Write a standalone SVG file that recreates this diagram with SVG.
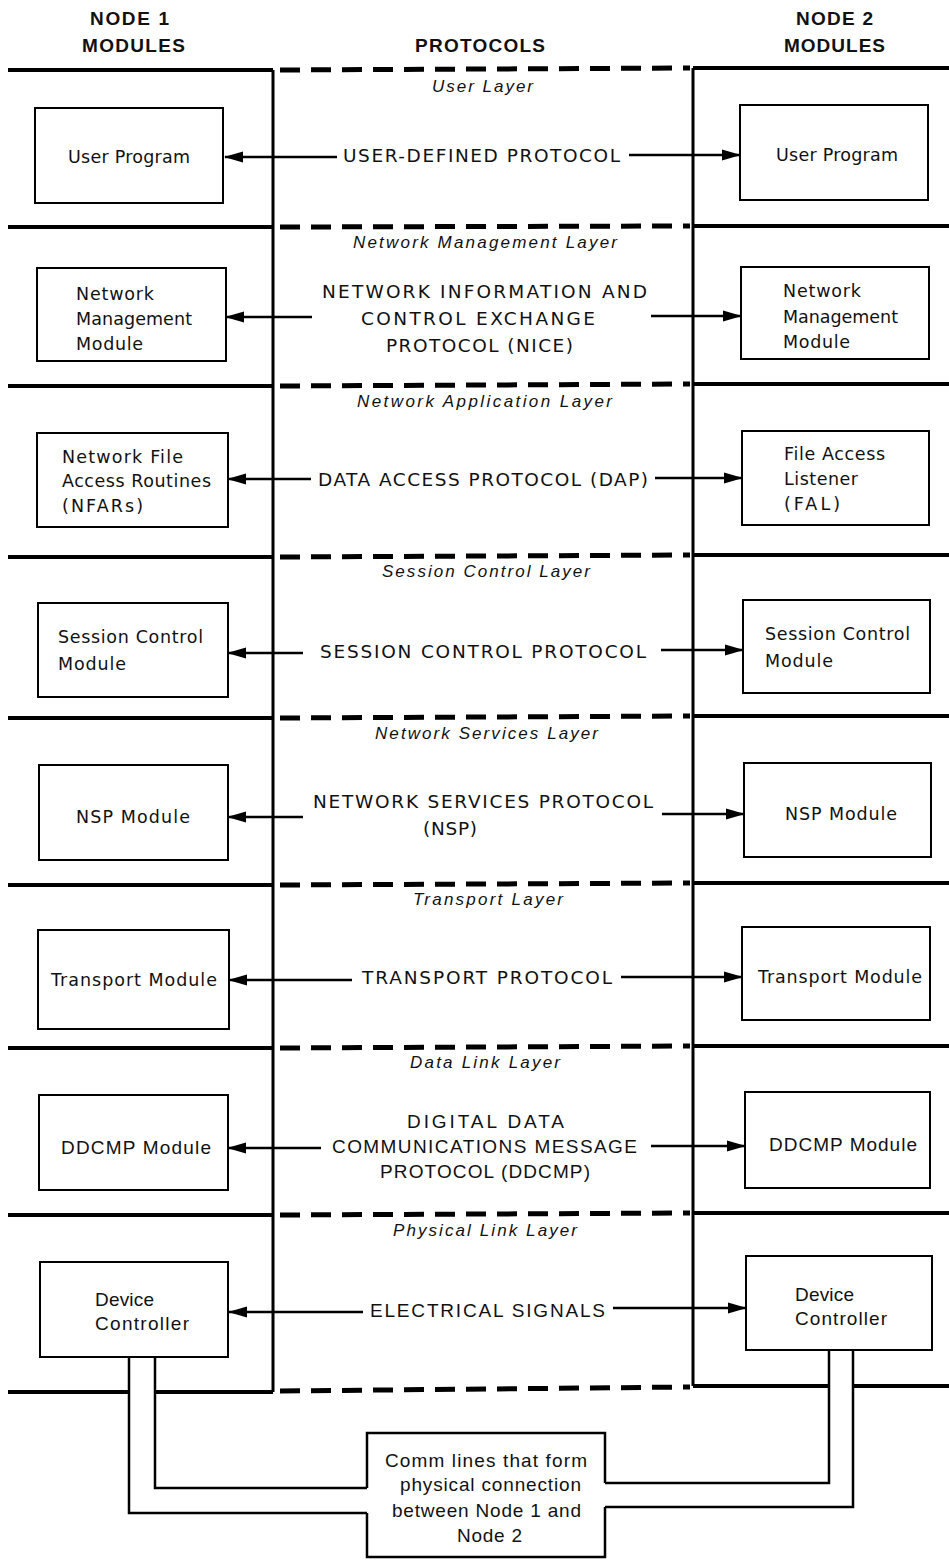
<svg xmlns="http://www.w3.org/2000/svg" width="949" height="1560" viewBox="0 0 949 1560">
<defs>
<marker id="ah" markerUnits="userSpaceOnUse" markerWidth="19" markerHeight="14" refX="18" refY="7" orient="auto"><path d="M0,1.5 L19,7 L0,12.5 z" fill="#000"/></marker>
<style>
.hdr{font-family:"Liberation Sans",Arial,sans-serif;font-size:19px;font-weight:bold;fill:#111}
.layer{font-family:"Liberation Sans",Arial,sans-serif;font-size:17px;font-style:italic;fill:#111}
.proto{font-family:"DejaVu Sans","Liberation Sans",sans-serif;font-size:18.5px;fill:#111}
.mod{font-family:"DejaVu Sans","Liberation Sans",sans-serif;font-size:17.5px;fill:#111}
.cond{font-family:"Liberation Sans",Arial,sans-serif;font-size:19px;fill:#111}
.box{fill:#fff;stroke:#000;stroke-width:2}
.thick{stroke:#000;stroke-width:4;fill:none}
.dash{stroke:#000;stroke-width:5;stroke-dasharray:20 11;fill:none}
.vert{stroke:#000;stroke-width:3;fill:none}
.arr{stroke:#000;stroke-width:2.4;fill:none;marker-end:url(#ah)}
.comm{stroke:#000;stroke-width:2.5;fill:none}
</style>
</defs>
<rect width="949" height="1560" fill="#fff"/>

<g id="headers">
<text class="hdr" x="90" y="25" textLength="79" lengthAdjust="spacing">NODE 1</text>
<text class="hdr" x="82" y="52" textLength="103" lengthAdjust="spacing">MODULES</text>
<text class="hdr" x="415" y="52" textLength="130" lengthAdjust="spacing">PROTOCOLS</text>
<text class="hdr" x="796" y="25" textLength="77" lengthAdjust="spacing">NODE 2</text>
<text class="hdr" x="784" y="52" textLength="101" lengthAdjust="spacing">MODULES</text>
</g>

<g id="frame">
<path class="vert" d="M273,70 V1392 M693,68 V1386"/>
<path class="thick" d="M8,70 H273 M693,68 H949"/>
<path class="dash" d="M280,70 L690,68"/>
<path class="thick" d="M8,227 H273 M693,226 H949"/>
<path class="dash" d="M280,227 L690,226"/>
<path class="thick" d="M8,386 H273 M693,384 H949"/>
<path class="dash" d="M280,386 L690,384"/>
<path class="thick" d="M8,557 H273 M693,555 H949"/>
<path class="dash" d="M280,557 L690,555"/>
<path class="thick" d="M8,718 H273 M693,716 H949"/>
<path class="dash" d="M280,718 L690,716"/>
<path class="thick" d="M8,885 H273 M693,883 H949"/>
<path class="dash" d="M280,885 L690,883"/>
<path class="thick" d="M8,1048 H273 M693,1046 H949"/>
<path class="dash" d="M280,1048 L690,1046"/>
<path class="thick" d="M8,1215 H273 M693,1213 H949"/>
<path class="dash" d="M280,1215 L690,1213"/>
<path class="thick" d="M8,1392 H129 M155,1392 H273 M693,1386 H829 M853,1386 H949"/>
<path class="dash" d="M280,1391 L690,1387"/>
</g>

<g id="layer-labels">
<text class="layer" x="432" y="92" textLength="101" lengthAdjust="spacing">User Layer</text>
<text class="layer" x="353" y="248" textLength="264" lengthAdjust="spacing">Network Management Layer</text>
<text class="layer" x="357" y="407" textLength="255" lengthAdjust="spacing">Network Application Layer</text>
<text class="layer" x="382" y="577" textLength="208" lengthAdjust="spacing">Session Control Layer</text>
<text class="layer" x="375" y="739" textLength="223" lengthAdjust="spacing">Network Services Layer</text>
<text class="layer" x="413" y="905" textLength="150" lengthAdjust="spacing">Transport Layer</text>
<text class="layer" x="410" y="1068" textLength="150" lengthAdjust="spacing">Data Link Layer</text>
<text class="layer" x="393" y="1236" textLength="184" lengthAdjust="spacing">Physical Link Layer</text>
</g>

<g id="connectors">
<path class="arr" d="M337,157 H225"/>
<path class="arr" d="M629,155 H740"/>
<path class="arr" d="M312,317 H226"/>
<path class="arr" d="M651,316 H741"/>
<path class="arr" d="M311,479 H228"/>
<path class="arr" d="M655,478 H742"/>
<path class="arr" d="M303,653 H228"/>
<path class="arr" d="M661,650 H743"/>
<path class="arr" d="M303,817 H228"/>
<path class="arr" d="M662,814 H744"/>
<path class="arr" d="M352,980 H229"/>
<path class="arr" d="M621,977 H742"/>
<path class="arr" d="M321,1148 H228"/>
<path class="arr" d="M651,1146 H745"/>
<path class="arr" d="M363,1312 H229"/>
<path class="arr" d="M613,1308 H746"/>
<path class="comm" d="M129,1357 V1513 H367 M155,1357 V1488 H367 M829,1350 V1483 H605 M853,1350 V1507 H605"/>
</g>

<g id="protocols">
<text class="proto" x="343" y="162" textLength="277" lengthAdjust="spacing">USER-DEFINED PROTOCOL</text>
<text class="proto" x="322" y="298" textLength="325" lengthAdjust="spacing">NETWORK INFORMATION AND</text>
<text class="proto" x="361" y="325" textLength="234" lengthAdjust="spacing">CONTROL EXCHANGE</text>
<text class="proto" x="386" y="352" textLength="187" lengthAdjust="spacing">PROTOCOL (NICE)</text>
<text class="proto" x="318" y="486" textLength="330" lengthAdjust="spacing">DATA ACCESS PROTOCOL (DAP)</text>
<text class="proto" x="320" y="658" textLength="326" lengthAdjust="spacing">SESSION CONTROL PROTOCOL</text>
<text class="proto" x="313" y="808" textLength="340" lengthAdjust="spacing">NETWORK SERVICES PROTOCOL</text>
<text class="proto" x="423" y="835" textLength="54" lengthAdjust="spacing">(NSP)</text>
<text class="proto" x="362" y="984" textLength="250" lengthAdjust="spacing">TRANSPORT PROTOCOL</text>
<text class="cond" x="407" y="1128" textLength="157" lengthAdjust="spacing">DIGITAL DATA</text>
<text class="cond" x="332" y="1153" textLength="305" lengthAdjust="spacing">COMMUNICATIONS MESSAGE</text>
<text class="cond" x="380" y="1178" textLength="210" lengthAdjust="spacing">PROTOCOL (DDCMP)</text>
<text class="cond" x="370" y="1317" textLength="235" lengthAdjust="spacing">ELECTRICAL SIGNALS</text>
</g>

<g id="n1-user-program">
<rect class="box" x="35" y="108" width="188" height="95"/>
<text class="mod" x="68" y="163" textLength="122" lengthAdjust="spacing">User Program</text>
</g>
<g id="n2-user-program">
<rect class="box" x="740" y="105" width="188" height="95"/>
<text class="mod" x="776" y="161" textLength="122" lengthAdjust="spacing">User Program</text>
</g>

<g id="n1-netmgmt">
<rect class="box" x="37" y="268" width="189" height="93"/>
<text class="mod" x="76" y="300" textLength="78" lengthAdjust="spacing">Network</text>
<text class="mod" x="76" y="325" textLength="116" lengthAdjust="spacing">Management</text>
<text class="mod" x="76" y="350" textLength="67" lengthAdjust="spacing">Module</text>
</g>
<g id="n2-netmgmt">
<rect class="box" x="741" y="267" width="188" height="92"/>
<text class="mod" x="783" y="297" textLength="78" lengthAdjust="spacing">Network</text>
<text class="mod" x="783" y="323" textLength="115" lengthAdjust="spacing">Management</text>
<text class="mod" x="783" y="348" textLength="67" lengthAdjust="spacing">Module</text>
</g>

<g id="n1-nfar">
<rect class="box" x="37" y="433" width="191" height="94"/>
<text class="mod" x="62" y="463" textLength="121" lengthAdjust="spacing">Network File</text>
<text class="mod" x="62" y="487" textLength="149" lengthAdjust="spacing">Access Routines</text>
<text class="mod" x="62" y="512" textLength="81" lengthAdjust="spacing">(NFARs)</text>
</g>
<g id="n2-fal">
<rect class="box" x="742" y="431" width="187" height="94"/>
<text class="mod" x="784" y="460" textLength="101" lengthAdjust="spacing">File Access</text>
<text class="mod" x="784" y="485" textLength="74" lengthAdjust="spacing">Listener</text>
<text class="mod" x="784" y="510" textLength="56" lengthAdjust="spacing">(FAL)</text>
</g>

<g id="n1-session">
<rect class="box" x="38" y="603" width="190" height="94"/>
<text class="mod" x="58" y="643" textLength="145" lengthAdjust="spacing">Session Control</text>
<text class="mod" x="58" y="670" textLength="68" lengthAdjust="spacing">Module</text>
</g>
<g id="n2-session">
<rect class="box" x="743" y="600" width="187" height="93"/>
<text class="mod" x="765" y="640" textLength="145" lengthAdjust="spacing">Session Control</text>
<text class="mod" x="765" y="667" textLength="68" lengthAdjust="spacing">Module</text>
</g>

<g id="n1-nsp">
<rect class="box" x="39" y="765" width="189" height="95"/>
<text class="mod" x="76" y="823" textLength="114" lengthAdjust="spacing">NSP Module</text>
</g>
<g id="n2-nsp">
<rect class="box" x="744" y="763" width="187" height="94"/>
<text class="mod" x="785" y="820" textLength="112" lengthAdjust="spacing">NSP Module</text>
</g>

<g id="n1-transport">
<rect class="box" x="38" y="930" width="191" height="99"/>
<text class="mod" x="51" y="986" textLength="166" lengthAdjust="spacing">Transport Module</text>
</g>
<g id="n2-transport">
<rect class="box" x="742" y="927" width="188" height="93"/>
<text class="mod" x="758" y="983" textLength="164" lengthAdjust="spacing">Transport Module</text>
</g>

<g id="n1-ddcmp">
<rect class="box" x="39" y="1095" width="189" height="95"/>
<text class="cond" x="61" y="1154" textLength="150" lengthAdjust="spacing">DDCMP Module</text>
</g>
<g id="n2-ddcmp">
<rect class="box" x="745" y="1092" width="185" height="96"/>
<text class="cond" x="769" y="1151" textLength="148" lengthAdjust="spacing">DDCMP Module</text>
</g>

<g id="n1-device">
<rect class="box" x="40" y="1262" width="188" height="95"/>
<text class="cond" x="95" y="1306" textLength="59" lengthAdjust="spacing">Device</text>
<text class="cond" x="95" y="1330" textLength="94" lengthAdjust="spacing">Controller</text>
</g>
<g id="n2-device">
<rect class="box" x="746" y="1256" width="186" height="94"/>
<text class="cond" x="795" y="1301" textLength="59" lengthAdjust="spacing">Device</text>
<text class="cond" x="795" y="1325" textLength="92" lengthAdjust="spacing">Controller</text>
</g>

<g id="comm-lines-box">
<path class="comm" d="M367,1488 V1433 H605 V1483 M605,1507 V1557 H367 V1513"/>
<text class="cond" x="385" y="1467" textLength="202" lengthAdjust="spacing">Comm lines that form</text>
<text class="cond" x="400" y="1491" textLength="181" lengthAdjust="spacing">physical connection</text>
<text class="cond" x="392" y="1517" textLength="189" lengthAdjust="spacing">between Node 1 and</text>
<text class="cond" x="457" y="1542" textLength="65" lengthAdjust="spacing">Node 2</text>
</g>
</svg>
